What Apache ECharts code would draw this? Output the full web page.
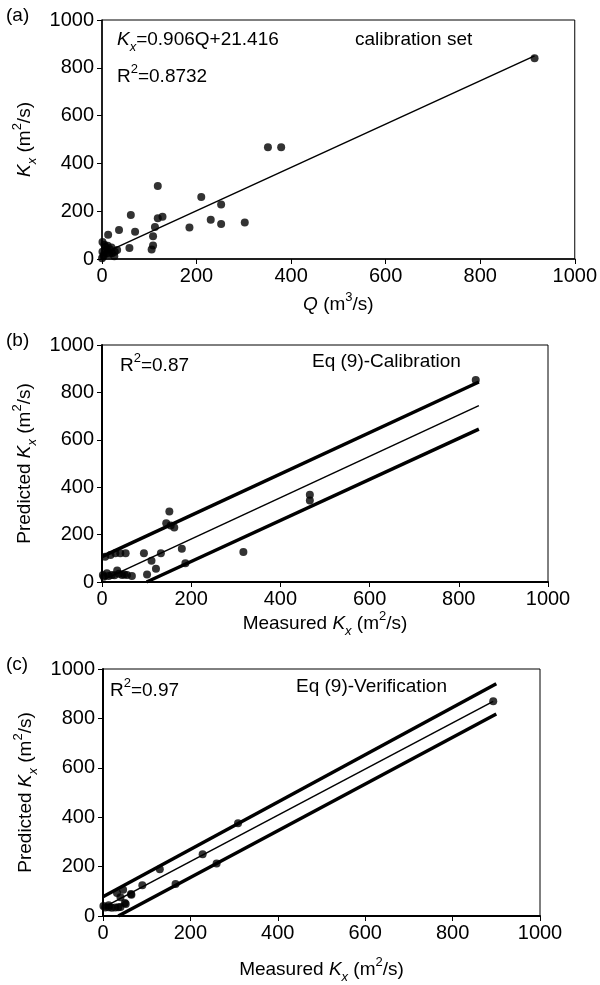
<!DOCTYPE html>
<html>
<head>
<meta charset="utf-8">
<script src="https://cdn.jsdelivr.net/npm/echarts@6/dist/echarts.min.js"></script>
<style>
  html, body { margin: 0; padding: 0; background: #fff; }
  #chart { width: 600px; height: 985px; }
</style>
</head>
<body>
<div id="chart"></div>
<script>
// panel (a): Kx vs Q, calibration set
const aPoints = [
  [118, 305], [210, 259], [252, 228], [230, 164], [252, 146], [302, 153],
  [185, 132], [61, 184], [118, 170], [128, 177], [112, 134], [108, 95],
  [108, 57], [105, 40], [70, 114], [36, 121], [58, 46], [13, 101],
  [1, 71], [7, 51], [17, 40], [32, 38], [26, 12], [3, 10], [0, 3],
  [11, 24], [21, 24], [8, 38], [1, 30], [5, 60], [12, 55], [15, 20],
  [4, 18], [20, 48], [27, 30], [351, 468], [379, 468], [915, 840]
];
const aFitQ = [10, 915];
const aFitK = [30, 850];

// panel (b): predicted vs measured, calibration
const bPoints = [
  [151, 297], [144, 248], [154, 238], [162, 230], [179, 140], [132, 121],
  [94, 121], [111, 90], [121, 56], [101, 32], [317, 127], [466, 368],
  [466, 344], [187, 79], [7, 107], [19, 114], [30, 121], [41, 121],
  [53, 121], [4, 22], [11, 37], [22, 30], [34, 48], [45, 30], [56, 30],
  [67, 25], [2, 30], [15, 25], [28, 28], [38, 35], [50, 32], [838, 852]
];
const bUpperX = [0, 845], bUpperY = [107, 844];
const bMidX = [5, 845], bMidY = [11, 744];
const bLowerX = [100, 845], bLowerY = [0, 645];

// panel (c): predicted vs measured, verification
const cPoints = [
  [309, 376], [228, 250], [260, 213], [130, 189], [166, 130], [90, 124],
  [64, 89], [40, 76], [50, 53], [1, 40], [5, 34], [13, 35], [20, 33],
  [28, 34], [35, 35], [40, 36], [52, 49], [32, 93], [46, 106], [13, 44],
  [65, 86], [893, 869]
];
const cUpperX = [0, 900], cUpperY = [78, 940];
const cMidX = [10, 893], cMidY = [43, 869];
const cLowerX = [35, 900], cLowerY = [0, 818];

const FONT = "'Liberation Sans', Arial, sans-serif";
const rich = {
  n: { fontSize: 19, fontFamily: FONT, color: '#000', lineHeight: 28, verticalAlign: 'middle' },
  i: { fontSize: 19, fontFamily: FONT, fontStyle: 'italic', color: '#000', lineHeight: 28, verticalAlign: 'middle' },
  s: { fontSize: 13, fontFamily: FONT, fontStyle: 'italic', color: '#000', lineHeight: 13, verticalAlign: 'bottom' },
  p: { fontSize: 13, fontFamily: FONT, color: '#000', lineHeight: 13, verticalAlign: 'top' }
};

function pairs(xs, ys) {
  return xs.map((x, k) => [x, ys[k]]);
}

function xAx(idx, name, gap, w) {
  return {
    gridIndex: idx, type: 'value', min: 0, max: 1000, interval: 200,
    name: name, nameLocation: 'middle', nameGap: gap,
    nameTextStyle: { fontSize: 19, fontFamily: FONT, color: '#000', rich: rich },
    axisLine: { show: true, onZero: false, lineStyle: { color: '#000', width: w } },
    axisTick: { show: true, length: 5, lineStyle: { color: '#000', width: 1 } },
    axisLabel: { fontSize: 20, fontFamily: FONT, color: '#000', margin: 7, formatter: v => String(v) },
    splitLine: { show: false }
  };
}
function yAx(idx, name, gap, w) {
  return {
    gridIndex: idx, type: 'value', min: 0, max: 1000, interval: 200,
    name: name, nameLocation: 'middle', nameGap: gap, nameRotate: 90,
    nameTextStyle: { fontSize: 19, fontFamily: FONT, color: '#000', rich: rich },
    axisLine: { show: true, onZero: false, lineStyle: { color: '#000', width: w } },
    axisTick: { show: true, length: 5, lineStyle: { color: '#000', width: 1 } },
    axisLabel: { fontSize: 20, fontFamily: FONT, color: '#000', margin: 8, formatter: v => String(v) },
    splitLine: { show: false }
  };
}

function scatter(idx, data) {
  return {
    type: 'scatter', xAxisIndex: idx, yAxisIndex: idx, data: data,
    symbol: 'circle', symbolSize: 8, itemStyle: { color: '#000' }, z: 5
  };
}
function line(idx, data, w) {
  return {
    type: 'line', xAxisIndex: idx, yAxisIndex: idx, data: data,
    symbol: 'none', lineStyle: { color: '#000', width: w }, z: 4
  };
}

function txt(x, y, str) {
  return {
    type: 'text', left: x, top: y,
    style: { text: str, rich: rich, font: '19px ' + FONT, fill: '#000' }
  };
}

const chart = echarts.init(document.getElementById('chart'));
chart.setOption({
  animation: false,
  backgroundColor: '#fff',
  grid: [
    { left: 102, top: 20, width: 473, height: 239, show: true, borderColor: '#000', borderWidth: 1 },
    { left: 102, top: 345, width: 446, height: 237, show: true, borderColor: '#000', borderWidth: 1 },
    { left: 103, top: 669, width: 437, height: 249, show: true, borderColor: '#000', borderWidth: 1 }
  ],
  xAxis: [
    xAx(0, '{i|Q}{n| (m}{p|3}{n|/s)}', 32, 1.5),
    xAx(1, '{n|Measured }{i|K}{s|x}{n| (m}{p|2}{n|/s)}', 28, 2),
    xAx(2, '{n|Measured }{i|K}{s|x}{n| (m}{p|2}{n|/s)}', 40, 2)
  ],
  yAxis: [
    yAx(0, '{i|K}{s|x}{n| (m}{p|2}{n|/s)}', 62, 1.5),
    yAx(1, '{n|Predicted }{i|K}{s|x}{n| (m}{p|2}{n|/s)}', 62, 2),
    yAx(2, '{n|Predicted }{i|K}{s|x}{n| (m}{p|2}{n|/s)}', 62, 2)
  ],
  graphic: [
    txt(6, 6, '{n|(a)}'),
    txt(6, 331, '{n|(b)}'),
    txt(6, 655, '{n|(c)}'),
    txt(117, 30, '{i|K}{s|x}{n|=0.906Q+21.416}'),
    txt(117, 63, '{n|R}{p|2}{n|=0.8732}'),
    txt(355, 30, '{n|calibration set}'),
    txt(120, 352, '{n|R}{p|2}{n|=0.87}'),
    txt(312, 352, '{n|Eq (9)-Calibration}'),
    txt(110, 677, '{n|R}{p|2}{n|=0.97}'),
    txt(296, 677, '{n|Eq (9)-Verification}')
  ],
  series: [
    line(0, pairs(aFitQ, aFitK), 1.5),
    scatter(0, aPoints),
    line(1, pairs(bUpperX, bUpperY), 3.5),
    line(1, pairs(bMidX, bMidY), 1.5),
    line(1, pairs(bLowerX, bLowerY), 3.5),
    scatter(1, bPoints),
    line(2, pairs(cUpperX, cUpperY), 3.5),
    line(2, pairs(cMidX, cMidY), 1.5),
    line(2, pairs(cLowerX, cLowerY), 3.5),
    scatter(2, cPoints)
  ]
});
</script>
</body>
</html>
